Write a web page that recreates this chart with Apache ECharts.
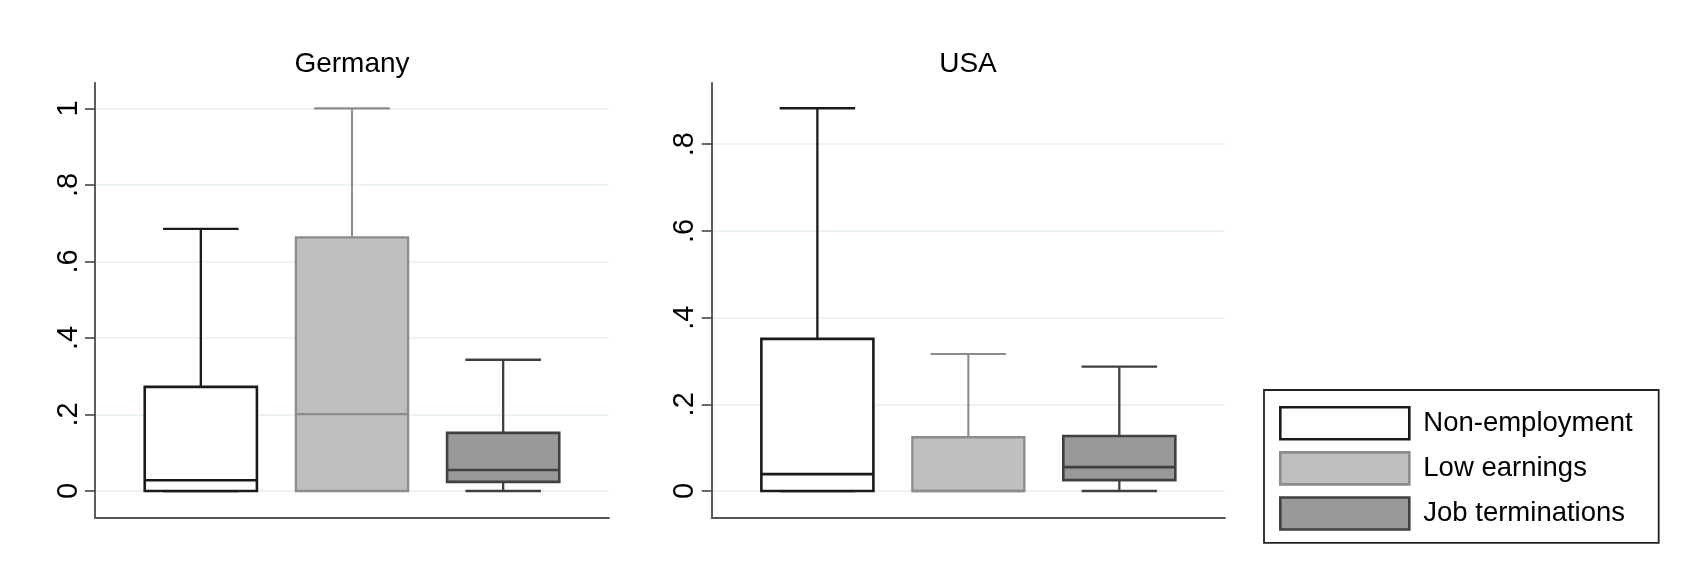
<!DOCTYPE html>
<html>
<head>
<meta charset="utf-8">
<style>
  html, body { margin: 0; padding: 0; background: #ffffff; }
  #chart { width: 1686px; height: 564px; }
</style>
<script src="https://cdn.jsdelivr.net/npm/echarts@6/dist/echarts.min.js"></script>
</head>
<body>
<div id="chart"></div>
<script>
// ---- data ----
const categories = ['Non-employment', 'Low earnings', 'Job terminations'];
const panelTitles = ['Germany', 'USA'];

const germanyMin    = [0.000, 0.000, 0.000];
const germanyQ1     = [0.000, 0.000, 0.024];
const germanyMedian = [0.028, 0.201, 0.055];
const germanyQ3     = [0.272, 0.663, 0.152];
const germanyMax    = [0.685, 1.000, 0.343];

const usaMin    = [0.000, 0.000, 0.000];
const usaQ1     = [0.000, 0.000, 0.025];
const usaMedian = [0.039, 0.000, 0.055];
const usaQ3     = [0.351, 0.124, 0.127];
const usaMax    = [0.883, 0.316, 0.287];

const germanyTicks = [0, 0.2, 0.4, 0.6, 0.8, 1];
const germanyTickLabels = ['0', '.2', '.4', '.6', '.8', '1'];
const usaTicks = [0, 0.2, 0.4, 0.6, 0.8];
const usaTickLabels = ['0', '.2', '.4', '.6', '.8'];

// ---- styles ----
const FONT = '"Liberation Sans", Arial, sans-serif';
const catStyles = [
  { fill: '#ffffff', stroke: '#1a1a1a', boxWidth: 2.6, lineWidth: 2.3 },
  { fill: '#bfbfbf', stroke: '#8c8c8c', boxWidth: 2.3, lineWidth: 2.1 },
  { fill: '#999999', stroke: '#404040', boxWidth: 2.6, lineWidth: 2.3 }
];
const BOX_HALF = 0.371;  // in x-axis units
const CAP_HALF = 0.25;

function buildSeries(gridIdx, mins, q1s, meds, q3s, maxs) {
  return categories.map((name, i) => ({
    type: 'custom',
    name: name,
    xAxisIndex: gridIdx,
    yAxisIndex: gridIdx,
    encode: { x: 0, y: [1, 2, 3, 4, 5] },
    itemStyle: { color: catStyles[i].fill, borderColor: catStyles[i].stroke },
    data: [[i + 1, mins[i], q1s[i], meds[i], q3s[i], maxs[i]]],
    renderItem: function (params, api) {
      const st = catStyles[i];
      const x = api.value(0);
      const c = api.coord([x, api.value(1)]);
      const pMin = c[1];
      const pQ1 = api.coord([x, api.value(2)])[1];
      const pMed = api.coord([x, api.value(3)])[1];
      const pQ3 = api.coord([x, api.value(4)])[1];
      const pMax = api.coord([x, api.value(5)])[1];
      const cx = c[0];
      const bl = api.coord([x - BOX_HALF, 0])[0];
      const br = api.coord([x + BOX_HALF, 0])[0];
      const cl = api.coord([x - CAP_HALF, 0])[0];
      const cr = api.coord([x + CAP_HALF, 0])[0];
      const lineStyle = { stroke: st.stroke, lineWidth: st.lineWidth, fill: null };
      return {
        type: 'group',
        children: [
          { type: 'line', shape: { x1: cx, y1: pQ3, x2: cx, y2: pMax }, style: lineStyle },
          { type: 'line', shape: { x1: cl, y1: pMax, x2: cr, y2: pMax }, style: lineStyle },
          { type: 'line', shape: { x1: cx, y1: pQ1, x2: cx, y2: pMin }, style: lineStyle },
          { type: 'line', shape: { x1: cl, y1: pMin, x2: cr, y2: pMin }, style: lineStyle },
          { type: 'rect', shape: { x: bl, y: pQ3, width: br - bl, height: pQ1 - pQ3 },
            style: { fill: st.fill, stroke: st.stroke, lineWidth: st.boxWidth } },
          { type: 'line', shape: { x1: bl, y1: pMed, x2: br, y2: pMed },
            style: { stroke: st.stroke, lineWidth: st.boxWidth } }
        ]
      };
    }
  }));
}

function makeYAxis(gridIdx, min, max, ticks, labels) {
  return {
    type: 'value',
    gridIndex: gridIdx,
    min: min,
    max: max,
    axisLine: { show: true, onZero: false, lineStyle: { color: '#333333', width: 1.6 } },
    axisTick: { show: true, length: 10, customValues: ticks, lineStyle: { color: '#444444', width: 1.6 } },
    axisLabel: {
      show: true,
      customValues: ticks,
      rotate: 90,
      margin: 12,
      fontFamily: FONT,
      fontSize: 29,
      color: '#000000',
      formatter: function (v) {
        const k = ticks.findIndex(t => Math.abs(t - v) < 1e-6);
        return k >= 0 ? labels[k] : '';
      }
    },
    splitLine: { show: true, lineStyle: { color: '#e6eff2', width: 1.6 } }
  };
}

function makeXAxis(gridIdx) {
  return {
    type: 'value',
    gridIndex: gridIdx,
    min: 0.3,
    max: 3.7,
    axisLine: { show: true, onZero: false, lineStyle: { color: '#555555', width: 1.8 } },
    axisTick: { show: false },
    axisLabel: { show: false },
    splitLine: { show: false }
  };
}

const chart = echarts.init(document.getElementById('chart'), null, { renderer: 'canvas' });
chart.setOption({
  backgroundColor: '#ffffff',
  animation: false,
  title: [
    { text: panelTitles[0], left: 352, top: 50, textAlign: 'center', padding: 0,
      textStyle: { fontFamily: FONT, fontSize: 28, fontWeight: 'normal', color: '#000000' } },
    { text: panelTitles[1], left: 968, top: 50, textAlign: 'center', padding: 0,
      textStyle: { fontFamily: FONT, fontSize: 28, fontWeight: 'normal', color: '#000000' } }
  ],
  grid: [
    { left: 95, top: 82.7, width: 514, height: 434.6, containLabel: false },
    { left: 711.7, top: 82.7, width: 513.3, height: 434.6, containLabel: false }
  ],
  xAxis: [makeXAxis(0), makeXAxis(1)],
  yAxis: [
    makeYAxis(0, -0.0687, 1.067, germanyTicks, germanyTickLabels),
    makeYAxis(1, -0.0607, 0.942, usaTicks, usaTickLabels)
  ],
  legend: {
    orient: 'vertical',
    left: 1264,
    top: 390,
    padding: [16, 26, 12, 15],
    itemWidth: 129,
    itemHeight: 32,
    itemGap: 10.5,
    borderColor: '#222222',
    borderWidth: 1.8,
    selectedMode: false,
    textStyle: { fontFamily: FONT, fontSize: 27.5, color: '#000000', padding: [0, 0, 0, 9] },
    data: categories.map((name, i) => ({
      name: name,
      icon: 'rect',
      itemStyle: { color: catStyles[i].fill, borderColor: catStyles[i].stroke, borderWidth: 2.6 }
    }))
  },
  series: [].concat(
    buildSeries(0, germanyMin, germanyQ1, germanyMedian, germanyQ3, germanyMax),
    buildSeries(1, usaMin, usaQ1, usaMedian, usaQ3, usaMax)
  )
});
</script>
</body>
</html>
